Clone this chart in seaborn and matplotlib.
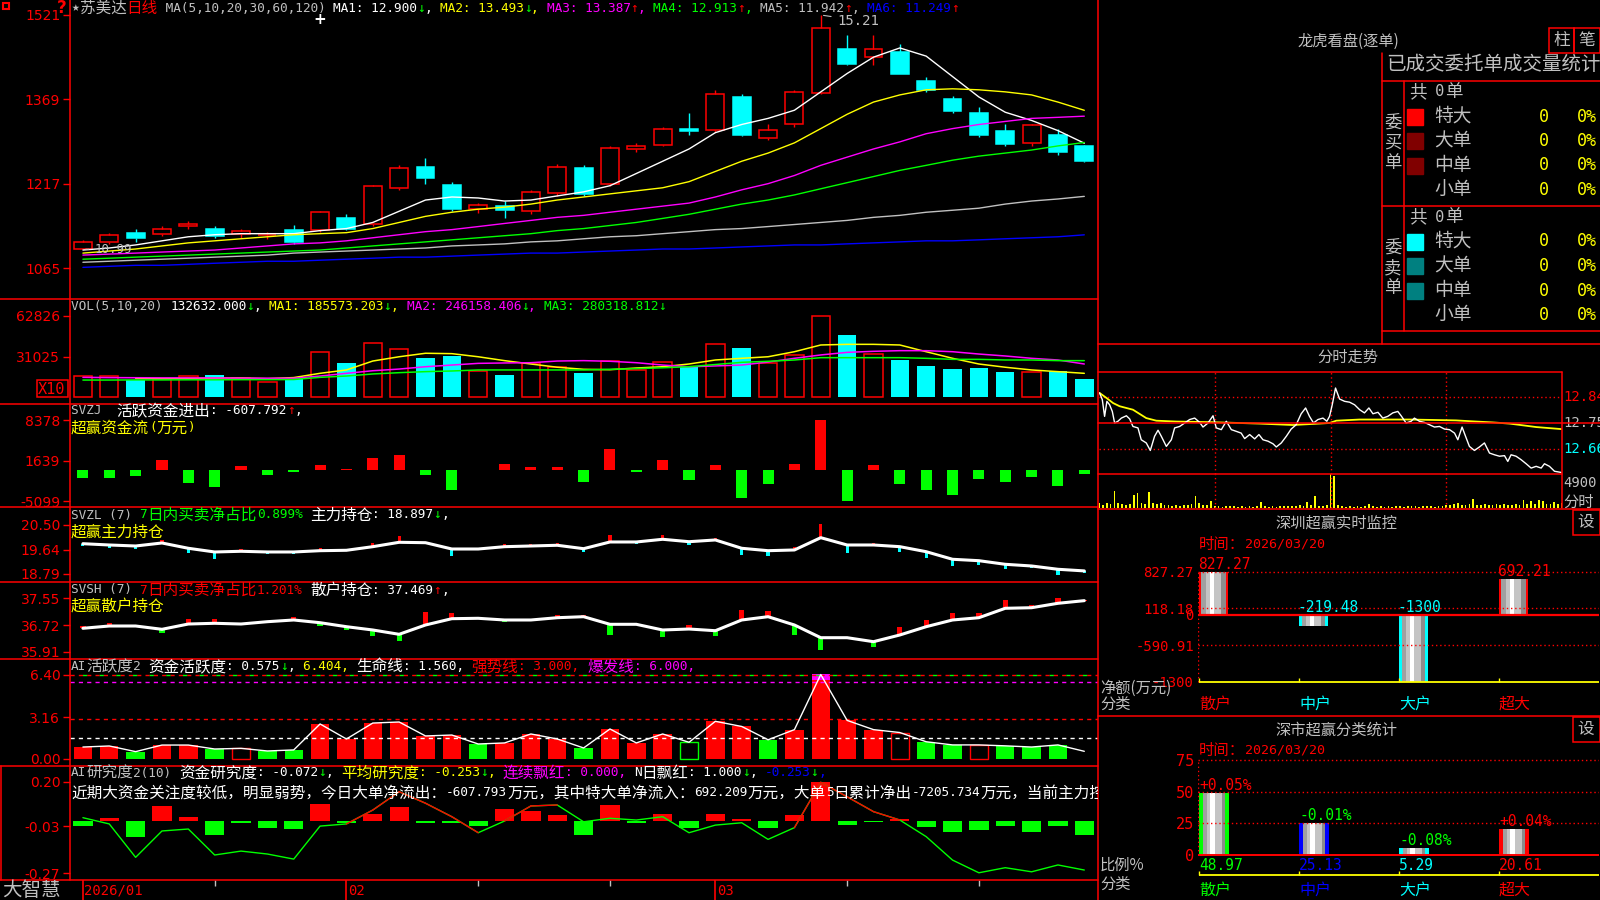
import numpy as np
import matplotlib
matplotlib.use("Agg")
import matplotlib.pyplot as plt
import matplotlib.transforms as mtransforms
from matplotlib.patches import Rectangle
from matplotlib.lines import Line2D
from matplotlib.font_manager import FontProperties
import seaborn as sns

# ---------------- daily data 2026-01-19 .. 2026-03-20 ----------------
opens = [10.99, 11.12, 11.29, 11.27, 11.40, 11.36, 11.27, 11.24, 11.33, 11.34, 11.56, 11.44, 12.10,
         12.48, 12.15, 11.72, 11.76, 11.67, 12.01, 12.45, 12.17, 12.80, 12.87, 13.15, 13.13, 13.73,
         13.00, 13.25, 13.80, 14.60, 14.45, 14.55, 14.02, 13.70, 13.45, 13.12, 12.90, 13.05, 12.85]
highs = [11.15, 11.28, 11.36, 11.40, 11.50, 11.40, 11.35, 11.30, 11.42, 11.68, 11.62, 12.15, 12.50,
         12.63, 12.20, 11.82, 11.85, 12.05, 12.52, 12.50, 12.85, 12.90, 13.20, 13.45, 13.85, 13.78,
         13.25, 13.85, 15.21, 14.85, 14.85, 14.68, 14.10, 13.75, 13.55, 13.25, 13.25, 13.15, 12.87]
lows = [10.99, 11.08, 11.12, 11.22, 11.36, 11.20, 11.20, 11.18, 11.08, 11.30, 11.33, 11.40, 12.05,
        12.17, 11.68, 11.65, 11.55, 11.62, 11.95, 11.95, 12.12, 12.75, 12.85, 13.05, 13.10, 13.03,
        12.95, 13.20, 13.78, 14.30, 14.30, 14.15, 13.82, 13.45, 13.02, 12.85, 12.85, 12.68, 12.57]
closes = [11.12, 11.25, 11.20, 11.36, 11.44, 11.23, 11.32, 11.25, 11.12, 11.66, 11.36, 12.12, 12.46,
          12.28, 11.71, 11.79, 11.70, 12.02, 12.48, 11.99, 12.81, 12.85, 13.15, 13.12, 13.79, 13.05,
          13.13, 13.82, 14.98, 14.32, 14.60, 14.15, 13.85, 13.48, 13.05, 12.88, 13.22, 12.75, 12.58]

ma5 = [10.975, 11.012, 11.067, 11.141, 11.214, 11.251, 11.270, 11.270, 11.270, 11.325, 11.362, 11.472,
       11.674, 11.876, 11.931, 11.913, 11.858, 11.876, 11.950, 12.023, 12.134, 12.354, 12.575, 12.796,
       13.090, 13.237, 13.347, 13.494, 13.825, 14.156, 14.450, 14.616, 14.469, 14.101, 13.733, 13.458,
       13.310, 13.127, 12.900]
ma10 = [10.920, 10.957, 10.994, 11.049, 11.104, 11.141, 11.178, 11.214, 11.251, 11.270, 11.288, 11.362,
        11.472, 11.582, 11.656, 11.711, 11.748, 11.803, 11.876, 11.931, 11.987, 12.042, 12.097, 12.207,
        12.391, 12.575, 12.722, 12.906, 13.163, 13.421, 13.641, 13.770, 13.862, 13.880, 13.862, 13.825,
        13.770, 13.641, 13.493]
ma20 = [10.884, 10.902, 10.920, 10.939, 10.957, 10.975, 11.012, 11.049, 11.086, 11.104, 11.141, 11.196,
        11.251, 11.306, 11.343, 11.398, 11.454, 11.509, 11.564, 11.600, 11.656, 11.711, 11.766, 11.821,
        11.931, 12.060, 12.171, 12.318, 12.501, 12.649, 12.796, 12.924, 13.071, 13.163, 13.237, 13.292,
        13.347, 13.366, 13.387]
ma30 = [10.810, 10.828, 10.847, 10.865, 10.884, 10.902, 10.920, 10.939, 10.957, 10.975, 11.012, 11.049,
        11.086, 11.122, 11.159, 11.196, 11.233, 11.270, 11.325, 11.362, 11.417, 11.472, 11.545, 11.619,
        11.711, 11.803, 11.876, 11.968, 12.079, 12.189, 12.299, 12.410, 12.501, 12.594, 12.667, 12.722,
        12.777, 12.851, 12.913]
ma60 = [10.755, 10.773, 10.792, 10.810, 10.828, 10.847, 10.865, 10.884, 10.920, 10.939, 10.957, 10.975,
        10.994, 11.012, 11.049, 11.067, 11.086, 11.122, 11.141, 11.178, 11.214, 11.233, 11.270, 11.306,
        11.343, 11.362, 11.398, 11.435, 11.472, 11.509, 11.564, 11.600, 11.656, 11.692, 11.729, 11.803,
        11.858, 11.895, 11.942]
ma120 = [10.663, 10.682, 10.700, 10.700, 10.718, 10.737, 10.755, 10.773, 10.773, 10.792, 10.810, 10.828,
         10.847, 10.847, 10.865, 10.884, 10.902, 10.920, 10.920, 10.939, 10.957, 10.975, 10.994, 10.994,
         11.012, 11.031, 11.049, 11.067, 11.067, 11.086, 11.104, 11.122, 11.141, 11.141, 11.159, 11.178,
         11.196, 11.214, 11.249]

volume = [16000, 16000, 12900, 13700, 16000, 16800, 14900, 11400, 14700, 34500, 26300, 41500, 36900,
          30100, 31700, 19900, 17000, 26300, 23000, 18800, 27800, 20900, 27000, 23000, 41000, 37900,
          26300, 32500, 62826, 47900, 33200, 28800, 24000, 21600, 22400, 19300, 19300, 19900, 13900]
vol_ma5 = [np.nan, np.nan, 14400, 14200, 14400, 14700, 14700, 14200, 15000, 18300, 20900, 27800, 31100,
           33800, 33500, 31100, 28100, 25500, 23000, 21400, 21100, 22400, 23400, 25500, 28600, 29900,
           31100, 35000, 40200, 40700, 40700, 40200, 35000, 29900, 25500, 23000, 20900, 19600, 18300]
vol_ma10 = [15200, 15000, 14900, 14800, 14800, 14700, 14600, 14500, 14500, 16200, 18300, 20300, 21600,
            23400, 24700, 26000, 26300, 26500, 27800, 28100, 27600, 26500, 24700, 23400, 24000, 24700,
            27000, 29900, 32500, 34500, 35300, 35800, 35800, 35000, 33200, 31700, 29900, 28600, 25500]
vol_ma20 = [13100, 13100, 13200, 13200, 13300, 13300, 13400, 13400, 13500, 15200, 16200, 17800, 18800,
            19600, 20100, 20900, 20900, 20900, 20900, 20900, 21400, 21900, 22600, 23400, 25100, 26800,
            27600, 28600, 30400, 30400, 30400, 30400, 29900, 29100, 29100, 28600, 28600, 28100, 28100]

svzj = [-1280, -1280, -950, 1720, -2110, -2770, 780, -830, -330, 950, 280, 2110, 2610, -830, -3270,
        110, 1110, 500, 610, -2000, 3610, -330, 1780, -1660, 830, -4660, -2330, 1000, 8378, -5099,
        830, -2330, -3330, -4160, -1500, -2000, -1160, -2660, -607.792]

svzl = [19.847, 19.802, 19.767, 19.872, 19.687, 19.558, 19.582, 19.558, 19.558, 19.603, 19.617, 19.743,
        19.896, 19.882, 19.662, 19.662, 19.743, 19.767, 19.792, 19.673, 19.907, 19.907, 20.001, 19.917,
        19.977, 19.687, 19.603, 19.628, 20.057, 19.802, 19.802, 19.743, 19.568, 19.303, 19.254, 19.128,
        19.069, 18.954, 18.897]
svzl_chg = [-0.08, -0.09, -0.10, 0.12, -0.17, -0.24, 0.09, -0.07, -0.07, 0.09, 0.0, 0.14, 0.21, -0.03,
            -0.23, 0.03, 0.09, 0.08, 0.08, -0.12, 0.24, -0.07, 0.14, -0.10, 0.06, -0.25, -0.17, 0.10,
            0.48, -0.29, 0.06, -0.17, -0.21, -0.25, -0.15, -0.15, -0.08, -0.20, -0.07]

svsh = [36.623, 36.693, 36.693, 36.592, 36.754, 36.776, 36.754, 36.825, 36.877, 36.794, 36.672, 36.571,
        36.439, 36.724, 36.917, 36.929, 36.877, 36.877, 36.947, 36.978, 36.745, 36.745, 36.571, 36.601,
        36.549, 36.877, 36.978, 36.724, 36.335, 36.335, 36.213, 36.418, 36.672, 36.877, 36.947, 37.235,
        37.253, 37.388, 37.469]
svsh_chg = [0.08, 0.10, 0.01, -0.10, 0.14, 0.12, -0.02, 0.03, 0.10, -0.10, -0.10, -0.17, -0.22, 0.40,
            0.16, 0.01, -0.05, -0.03, 0.09, 0.06, -0.33, 0.02, -0.20, 0.12, -0.15, 0.31, 0.17, -0.31,
            -0.38, 0.02, -0.15, 0.25, 0.20, 0.22, 0.13, 0.25, 0.08, 0.15, 0.03]

activity = [0.90, 0.98, 0.55, 1.05, 1.05, 0.75, 0.80, 0.60, 0.68, 2.65, 1.51, 2.72, 2.80, 1.74, 1.81,
            1.13, 1.21, 1.89, 1.51, 0.83, 2.27, 1.21, 1.89, 1.26, 2.85, 2.46, 1.45, 2.22, 6.404, 2.92,
            2.22, 2.00, 1.30, 1.06, 1.06, 0.99, 0.90, 1.06, 0.575]
activity_kind = list("rrgrrgRggrrrrrrgrrrgrrrGrrgrrrrRggRggg")
LIFE_LINE, STRONG_LINE, BURST_LINE, ACT_TOP = 1.56, 3.0, 6.0, 6.40

research = [-0.026, 0.012, -0.082, 0.077, 0.020, -0.072, -0.012, -0.038, -0.043, 0.087, -0.012, 0.036,
            0.072, -0.014, -0.014, -0.026, 0.061, 0.051, 0.031, -0.072, 0.082, -0.014, 0.036, -0.036,
            0.036, 0.010, -0.036, 0.031, 0.198, -0.020, -0.005, 0.007, -0.031, -0.060, -0.048, -0.026,
            -0.060, -0.026, -0.072]
research_avg = [0.015, -0.017, -0.188, -0.053, -0.043, -0.176, -0.156, -0.171, -0.197, -0.028, -0.017,
                0.054, 0.148, 0.089, 0.020, -0.062, -0.002, 0.075, 0.080, -0.006, 0.012, 0.003, 0.020,
                -0.062, -0.023, -0.011, -0.096, -0.036, 0.196, 0.122, 0.046, 0.003, -0.082, -0.202,
                -0.267, -0.241, -0.262, -0.227, -0.253]
research_red_seg = [10, 11, 12, 13, 14, 16, 17, 27, 28, 29, 30]

month_idx = [0, 10, 24]
month_lbl = ["2026/01", "02", "03"]
week_idx = [5, 15, 20, 29, 34]

# ---------------- intraday 2026-03-20 ----------------
tick_min = [0.3, 1.7, 2.9, 4.1, 5.5, 6.9, 8.1, 9.8, 11.6, 14.2, 15.9, 17.6, 20.2, 21.9, 24.5, 26.6, 28.8,
            30.6, 32.3, 34.9, 37.5, 39.2, 41.8, 44.4, 47.0, 49.6, 52.2, 53.9, 56.5, 59.1, 60.8, 63.4,
            66.0, 68.6, 71.2, 73.7, 75.5, 78.1, 80.7, 82.9, 85.0, 87.6, 90.2, 91.9, 94.5, 97.1, 99.6,
            102.2, 104.8, 107.1, 109.1, 111.2, 113.5, 116.1, 118.1, 119.5, 120.9, 122.6, 124.7, 127.3,
            129.9, 132.5, 135.1, 137.6, 139.9, 142.0, 144.6, 147.1, 149.7, 152.3, 154.9, 156.6, 159.2,
            161.8, 163.5, 166.1, 168.7, 171.3, 173.9, 176.5, 179.1, 181.7, 184.3, 186.0, 188.2, 190.0,
            192.0, 194.6, 197.2, 199.8, 202.4, 205.0, 207.6, 210.2, 211.9, 213.6, 216.2, 218.8, 221.4,
            224.0, 226.6, 229.2, 230.9, 233.5, 236.1, 239.5]
tick_price = [12.854, 12.831, 12.773, 12.825, 12.813, 12.790, 12.750, 12.756, 12.767, 12.775, 12.764,
              12.738, 12.733, 12.692, 12.681, 12.655, 12.704, 12.725, 12.704, 12.669, 12.692, 12.733,
              12.738, 12.750, 12.762, 12.767, 12.752, 12.736, 12.750, 12.775, 12.733, 12.727, 12.756,
              12.727, 12.721, 12.715, 12.696, 12.710, 12.695, 12.710, 12.692, 12.687, 12.678, 12.667,
              12.681, 12.704, 12.729, 12.744, 12.782, 12.802, 12.773, 12.750, 12.762, 12.767, 12.756,
              12.773, 12.813, 12.871, 12.833, 12.825, 12.822, 12.813, 12.796, 12.785, 12.802, 12.782,
              12.787, 12.767, 12.773, 12.785, 12.790, 12.775, 12.750, 12.756, 12.767, 12.756, 12.752,
              12.744, 12.736, 12.738, 12.729, 12.727, 12.715, 12.692, 12.736, 12.704, 12.669, 12.655,
              12.667, 12.681, 12.646, 12.640, 12.635, 12.637, 12.617, 12.640, 12.635, 12.623, 12.609,
              12.594, 12.600, 12.594, 12.609, 12.600, 12.583, 12.579]
avg_min = [0.3, 3.8, 7.3, 10.7, 17.6, 24.5, 29.7, 40.1, 57.3, 83.2, 100.5, 119.5, 123.0, 135.1, 161.0,
           185.1, 195.5, 204.1, 212.8, 226.6, 239.5]
avg_price = [12.854, 12.837, 12.819, 12.808, 12.796, 12.767, 12.758, 12.755, 12.753, 12.748, 12.743,
             12.750, 12.758, 12.762, 12.762, 12.759, 12.755, 12.752, 12.748, 12.736, 12.729]
min_vol = [900, 600, 1000, 700, 3270, 900, 700, 600, 800, 2610, 2940, 900, 800, 3140, 1000, 700, 900,
           600, 500, 400, 500, 400, 600, 500, 800, 2420, 900, 600, 500, 1310, 300, 300, 200, 300, 400,
           300, 200, 300, 200, 300, 200, 300, 1110, 300, 200, 300, 200, 300, 400, 300, 400, 300, 500,
           400, 1110, 500, 2290, 400, 300, 500, 6600, 6200, 500, 300, 200, 300, 200, 300, 200, 300, 850,
           300, 200, 300, 200, 300, 200, 400, 300, 200, 300, 400, 300, 200, 300, 400, 300, 200, 300, 400,
           600, 500, 700, 980, 600, 500, 700, 1760, 600, 500, 700, 600, 500, 700, 600, 800, 600, 500, 700,
           600, 1500, 700, 1440, 800, 1630, 1310, 700, 800, 1180, 700, 900]
PREV_CLOSE, PRICE_HI, PRICE_LO, VOL_MARK = 12.75, 12.84, 12.66, 4900

# ---------------- right-hand panels ----------------
order_rows = ["特大", "大单", "中单", "小单"]
order_counts = [0, 0, 0, 0]
buy_colors = ["#ff0000", "#800000", "#800000", None]
sell_colors = ["#00ffff", "#008080", "#008080", None]

flow_cats = ["散户", "中户", "大户", "超大"]
flow_vals = [827.27, -219.48, -1300, 692.21]
flow_ticks = [827.27, 118.18, 0, -590.91, -1300]
share_vals = [48.97, 25.13, 5.29, 20.61]
share_chg = ["+0.05%", "-0.01%", "-0.08%", "+0.04%"]
share_ticks = [0, 25, 50, 75]

RED, CYAN, GREEN, YELLOW = "#ff0000", "#00ffff", "#00ff00", "#ffff00"
MAGENTA, GRAY, WHITE, BLUE = "#ff00ff", "#c0c0c0", "#ffffff", "#0000ff"
MONO = ["DejaVu Sans Mono", "Noto Sans CJK SC"]
CJK = ["Noto Sans CJK SC", "DejaVu Sans"]
W, H = 1600, 900

sns.set_theme(style="dark", rc={"axes.facecolor": "black", "figure.facecolor": "black",
                                "axes.grid": False, "axes.unicode_minus": False})
plt.rcParams["font.family"] = ["DejaVu Sans", "Noto Sans CJK SC"]

fig = plt.figure(figsize=(16, 9), dpi=100)
fig.patch.set_facecolor("black")
renderer = fig.canvas.get_renderer()


def px_ax(x0, y0, x1, y1):
    ax = fig.add_axes([x0 / W, 1 - y1 / H, (x1 - x0) / W, (y1 - y0) / H])
    ax.set_facecolor("none")
    ax.grid(False)
    for s in ax.spines.values():
        s.set_visible(False)
    ax.set_xticks([])
    ax.set_yticks([])
    return ax


def hline(y, x0, x1, color=RED, lw=1.1, ls="-"):
    fig.add_artist(Line2D([x0 / W, x1 / W], [1 - y / H] * 2, color=color, lw=lw, ls=ls))


def vline(x, y0, y1, color=RED, lw=1.1, ls="-"):
    fig.add_artist(Line2D([x / W] * 2, [1 - y0 / H, 1 - y1 / H], color=color, lw=lw, ls=ls))


def box(x0, y0, x1, y1, color=RED, lw=1.1):
    fig.add_artist(Rectangle((x0 / W, 1 - y1 / H), (x1 - x0) / W, (y1 - y0) / H, fill=False,
                             edgecolor=color, lw=lw, transform=fig.transFigure))


def text_w(s, fam, size):
    prop = FontProperties(family=fam, size=size)
    w, _, _ = renderer.get_text_width_height_descent(s.replace(" ", "0"), prop, ismath=False)
    return w


def ctext(x, y, parts, size=9.2, wide=1.22, clip=None):
    # multi-coloured line; CJK runs slightly larger, like the bitmap font of the terminal
    for s, col in parts:
        chunks, run, cur = [], "", None
        for ch in s:
            w = ord(ch) >= 0x2E80
            if cur is not None and w != cur:
                chunks.append((run, cur))
                run = ""
            run += ch
            cur = w
        if run:
            chunks.append((run, cur))
        for r, w in chunks:
            fam = CJK if w else MONO
            sz = size * wide if w else size
            t = fig.text(x / W, 1 - y / H, r, color=col, fontsize=sz, family=fam, va="center", ha="left")
            if clip is not None:
                t.set_clip_box(clip)
                t.set_clip_on(True)
            x += text_w(r, fam, sz)
    return x


def left_ticks(ax, vals, labels):
    ax.set_yticks(vals)
    ax.set_yticklabels(labels)
    ax.tick_params(axis="y", left=True, length=5, width=1, color=RED, labelcolor=RED,
                   labelsize=10, pad=2)


idx = np.arange(len(closes))
o, hi, lo, c = map(np.array, (opens, highs, lows, closes))
up = c >= o
XL = (-0.49, 38.52)
dn_arrow, up_arrow = ("↓", GREEN), ("↑", RED)

# ---------------- K line ----------------
axk = px_ax(70, 0, 1098, 299)
axk.set_xlim(*XL)
axk.set_ylim(10.093, 15.48)
left_ticks(axk, [10.65, 12.17, 13.69, 15.21], ["1065", "1217", "1369", "1521"])
bw = 0.68
for i in idx:
    col = RED if up[i] else CYAN
    top, bot = max(o[i], c[i]), min(o[i], c[i])
    axk.vlines(i, top, hi[i], color=col, lw=1)
    axk.vlines(i, lo[i], bot, color=col, lw=1)
    axk.add_patch(Rectangle((i - bw / 2, bot), bw, max(top - bot, 0.004),
                            facecolor="none" if up[i] else CYAN, edgecolor=col, lw=1.1))
for ma, col in zip([ma5, ma10, ma20, ma30, ma60, ma120], [WHITE, YELLOW, MAGENTA, GREEN, GRAY, BLUE]):
    sns.lineplot(x=idx, y=ma, ax=axk, color=col, lw=1, legend=False)
kh = int(np.argmax(hi))
axk.annotate(f"{hi[kh]:.2f}", xy=(kh, hi[kh]), xytext=(kh + 0.62, hi[kh] - 0.1), color=GRAY,
             fontsize=10, family=MONO, va="center",
             arrowprops=dict(arrowstyle="-", color=GRAY, lw=0.8))
kl = int(np.argmin(lo))
axk.annotate(f"{lo[kl]:.2f}", xy=(kl, lo[kl]), xytext=(kl + 0.45, lo[kl]), color=GRAY,
             fontsize=9, family=MONO, va="center",
             arrowprops=dict(arrowstyle="-", color=GRAY, lw=0.8))
mas = [(ma5, WHITE), (ma10, YELLOW), (ma20, MAGENTA), (ma30, GREEN), (ma60, GRAY), (ma120, BLUE)]
parts = [("★苏美达", GRAY), ("日线", RED), (" MA(5,10,20,30,60,120) ", GRAY)]
for k, (ma, col) in enumerate(mas):
    parts.append((f"MA{k + 1}: {ma[-1]:.3f}", col))
    parts.append(up_arrow if ma[-1] >= ma[-2] else dn_arrow)
    if k < 5:
        parts.append((", ", col))
ctext(72, 8, parts)
fig.text(320 / W, 1 - 19 / H, "+", color=WHITE, fontsize=11, fontweight="bold", ha="center", va="center")
fig.text(62 / W, 1 - 8 / H, "?", color=RED, fontsize=12, fontweight="bold", ha="center", va="center")
box(3, 3, 9, 9, lw=1.5)

# ---------------- volume ----------------
axv = px_ax(70, 299, 1098, 404)
axv.set_xlim(*XL)
axv.set_ylim(-5410, 75734)
left_ticks(axv, [31025, 62826], ["31025", "62826"])
vol = np.array(volume)
axv.bar(idx[up], vol[up], width=0.7, facecolor="none", edgecolor=RED, linewidth=1.1)
axv.bar(idx[~up], vol[~up], width=0.7, color=CYAN, linewidth=0)
for s, col in zip([vol_ma5, vol_ma10, vol_ma20], [YELLOW, MAGENTA, GREEN]):
    sns.lineplot(x=idx, y=s, ax=axv, color=col, lw=1.1, legend=False)
ctext(71, 306, [("VOL(5,10,20) ", GRAY), ("132632.000", WHITE), dn_arrow, (", ", WHITE),
                ("MA1: 185573.203", YELLOW), dn_arrow, (", ", YELLOW),
                ("MA2: 246158.406", MAGENTA), dn_arrow, (", ", MAGENTA),
                ("MA3: 280318.812", GREEN), dn_arrow])
box(37, 380, 68, 397)
fig.text(52 / W, 1 - 389 / H, "X10", color=RED, fontsize=11, family=MONO, ha="center", va="center")

# ---------------- SVZJ ----------------
axz = px_ax(70, 404, 1098, 507)
axz.set_xlim(*XL)
axz.set_ylim(-6090, 11049)
left_ticks(axz, [-5099, 1639, 8378], ["-5099", "1639", "8378"])
zj = np.array(svzj, dtype=float)
axz.bar(idx, zj, width=0.42, color=[RED if v > 0 else GREEN for v in zj], linewidth=0)
ctext(71, 411, [("SVZJ  ", GRAY), (f"活跃资金进出: {zj[-1]:.3f}", WHITE), up_arrow, (",", WHITE)])
ctext(71, 428, [("超赢资金流(万元)", YELLOW)])

# ---------------- SVZL ----------------
axl = px_ax(70, 507, 1098, 582)
axl.set_xlim(*XL)
axl.set_ylim(18.51, 21.128)
left_ticks(axl, [18.79, 19.64, 20.50], ["18.79", "19.64", "20.50"])
zl_chg = np.array(svzl_chg)
axl.bar(idx, zl_chg, bottom=svzl, width=0.12, color=[RED if v > 0 else CYAN for v in zl_chg], linewidth=0)
sns.lineplot(x=idx, y=svzl, ax=axl, color=WHITE, lw=2.2, legend=False)
ctext(71, 515, [("SVZL (7) ", GRAY), ("7日内买卖净占比0.899%", GREEN), (f" 主力持仓: {svzl[-1]:.3f}", WHITE),
                dn_arrow, (",", WHITE)])
ctext(71, 532, [("超赢主力持仓", YELLOW)])

# ---------------- SVSH ----------------
axs = px_ax(70, 582, 1098, 659)
axs.set_xlim(*XL)
axs.set_ylim(35.683, 38.04)
left_ticks(axs, [35.91, 36.72, 37.55], ["35.91", "36.72", "37.55"])
sh_chg = np.array(svsh_chg)
axs.bar(idx, sh_chg, bottom=svsh, width=0.2, color=[RED if v > 0 else GREEN for v in sh_chg], linewidth=0)
sns.lineplot(x=idx, y=svsh, ax=axs, color=WHITE, lw=2.2, legend=False)
ctext(71, 590, [("SVSH (7) ", GRAY), ("7日内买卖净占比1.201%", RED), (f" 散户持仓: {svsh[-1]:.3f}", WHITE),
                up_arrow, (",", WHITE)])
ctext(71, 606, [("超赢散户持仓", YELLOW)])

# ---------------- AI 活跃度 ----------------
axa = px_ax(70, 659, 1098, 766)
axa.set_xlim(*XL)
axa.set_ylim(-0.54, 7.58)
left_ticks(axa, [0, 3.16, 6.40], ["0.00", "3.16", "6.40"])
act = np.array(activity)
axa.axhline(ACT_TOP, color=RED, lw=1, ls=(0, (3, 3)))
axa.axhline(ACT_TOP, color=GREEN, lw=1, ls=(3, (3, 9)))
axa.axhline(BURST_LINE - 0.14, color=MAGENTA, lw=1, ls=(0, (3, 3)))
axa.axhline(STRONG_LINE, color=RED, lw=1, ls=(0, (3, 3)))
axa.axhline(LIFE_LINE, color=WHITE, lw=1, ls=(0, (3, 3)))
sns.lineplot(x=idx, y=act, ax=axa, color=WHITE, lw=1, legend=False)
for i, (v, k) in enumerate(zip(act, activity_kind)):
    col = RED if k in "rR" else GREEN
    hollow = k in "RG"
    axa.bar(i, v, width=0.7, facecolor="none" if hollow else col, edgecolor=col, linewidth=1 if hollow else 0)
    if v > BURST_LINE:
        axa.bar(i, v - BURST_LINE, bottom=BURST_LINE, width=0.7, color=MAGENTA, linewidth=0)
ctext(71, 667, [("AI活跃度2 ", GRAY), (f"资金活跃度: {act[-1]:.3f}", WHITE), dn_arrow, (", ", WHITE),
                (f"{act.max():.3f}, ", YELLOW), (f"生命线: {LIFE_LINE:.3f}, ", WHITE),
                (f"强势线: {STRONG_LINE:.3f}, ", RED), (f"爆发线: {BURST_LINE:.3f},", MAGENTA)])

# ---------------- AI 研究度 ----------------
axr = px_ax(70, 766, 1098, 880)
axr.set_xlim(*XL)
axr.set_ylim(-0.304, 0.2796)
left_ticks(axr, [-0.27, -0.03, 0.20], ["-0.27", "-0.03", "0.20"])
rs = np.array(research)
axr.bar(idx, rs, width=0.73, color=[RED if v > 0 else GREEN for v in rs], linewidth=0)
ra = np.array(research_avg)
sns.lineplot(x=idx, y=ra, ax=axr, color=GREEN, lw=1, legend=False)
for s in research_red_seg:
    axr.plot([s, s + 1], ra[s:s + 2], color=RED, lw=1)
ctext(71, 773, [("AI研究度2(10) ", GRAY), (f"资金研究度: {rs[-1]:.3f}", WHITE), dn_arrow, (", ", WHITE),
                (f"平均研究度: {ra[-1]:.3f}", YELLOW), dn_arrow, (", ", YELLOW),
                ("连续飘红: 0.000, ", MAGENTA), ("N日飘红: 1.000", WHITE), dn_arrow, (", ", WHITE),
                (f"{ra[-1]:.3f}", BLUE), dn_arrow, (",", BLUE)])
ctext(71, 793, [("近期大资金关注度较低，明显弱势，今日大单净流出：-607.793万元，其中特大单净流入：692.209万元，"
                 "大单5日累计净出-7205.734万元，当前主力控盘", WHITE)], clip=axr.bbox)

# ---------------- date row ----------------
axd = px_ax(70, 880, 1098, 900)
axd.set_xlim(*XL)
axd.set_ylim(0, 1)
axd.vlines(month_idx, 0, 1, color=RED, lw=1.2)
axd.vlines(week_idx, 0.72, 1, color=GRAY, lw=1)
for i, lb in zip(month_idx, month_lbl):
    axd.text(i + 0.05, 0.45, lb, color=RED, fontsize=10, family=MONO, va="center", ha="left")
ctext(2, 890, [("大智慧", GRAY)], size=11.5)

# frame lines of the left area
for y in [299, 404, 507, 582, 659, 766, 880]:
    hline(y, 0, 1098)
vline(69.5, 0, 880)
vline(1, 766, 880)
vline(1098, 0, 900)

# ---------------- 龙虎看盘 ----------------
fig.text(1348 / W, 1 - 41 / H, "龙虎看盘(逐单)", color=GRAY, fontsize=11, family=CJK, ha="center", va="center")
box(1549, 28, 1574, 53)
box(1574, 28, 1600, 53)
fig.text(1561.5 / W, 1 - 41 / H, "柱", color=GRAY, fontsize=12, family=CJK, ha="center", va="center")
fig.text(1587 / W, 1 - 41 / H, "笔", color=GRAY, fontsize=12, family=CJK, ha="center", va="center")
vline(1382, 53, 344)
hline(80.7, 1382, 1600)
hline(205.7, 1382, 1600)
hline(331, 1382, 1600)
vline(1404, 80.7, 331)
fig.text(1386 / W, 1 - 65 / H, "已成交委托单成交量统计", color=GRAY, fontsize=14, family=CJK, ha="left", va="center")
for top, side, cols in [(92, "委买单", buy_colors), (217, "委卖单", sell_colors)]:
    ctext(1409, top, [("共", GRAY), (" 0", GRAY), ("单", GRAY)], size=11, wide=1.15)
    for k, ch in enumerate(side):
        fig.text(1393 / W, 1 - (top + 31 + 20 * k) / H, ch, color=GRAY, fontsize=12.5, family=CJK,
                 ha="center", va="center")
    for r, (name, n, col) in enumerate(zip(order_rows, order_counts, cols)):
        yy = top + 24.5 * (r + 1)
        if col:
            fig.add_artist(Rectangle((1407 / W, 1 - (yy + 8) / H), 16 / W, 16 / H, color=col,
                                     transform=fig.transFigure))
        fig.text(1434 / W, 1 - yy / H, name, color=GRAY, fontsize=13.5, family=CJK, ha="left", va="center")
        fig.text(1544 / W, 1 - yy / H, f"{n}", color=YELLOW, fontsize=12, family=MONO, ha="center", va="center")
        fig.text(1577 / W, 1 - yy / H, f"{n}%", color=YELLOW, fontsize=12, family=MONO, ha="left", va="center")

# ---------------- 分时走势 ----------------
hline(344, 1098, 1600)
fig.text(1348 / W, 1 - 357 / H, "分时走势", color=GRAY, fontsize=11, family=CJK, ha="center", va="center")
axp = px_ax(1099, 372, 1562, 474)
axp.set_xlim(0, 240)
axp.set_ylim(12.5735, 12.9265)
axpv = px_ax(1099, 474, 1562, 508)
axpv.set_xlim(0, 240)
axpv.set_ylim(0, 6600)
for a in (axp, axpv):
    for m in (60, 120, 180):
        a.axvline(m, color=RED, lw=1, ls=(0, (1, 2)))
axp.axhline(PRICE_HI, color=RED, lw=1, ls=(0, (1, 2)))
axp.axhline(PRICE_LO, color=RED, lw=1, ls=(0, (1, 2)))
hline(423.3, 1098, 1600)
sns.lineplot(x=avg_min, y=avg_price, ax=axp, color=YELLOW, lw=1.3, legend=False)
sns.lineplot(x=tick_min, y=tick_price, ax=axp, color=WHITE, lw=1, legend=False)
axpv.bar(np.arange(len(min_vol)) * 2, min_vol, width=0.9, color=YELLOW, linewidth=0)
for v, col in [(PRICE_HI, RED), (PREV_CLOSE, GRAY), (PRICE_LO, CYAN)]:
    axp.text(240.5, v, f"{v:.2f}", color=col, fontsize=10, family=MONO, va="center", ha="left", clip_on=False)
axpv.text(240.5, VOL_MARK, f"{VOL_MARK}", color=GRAY, fontsize=10, family=MONO, va="center", ha="left",
          clip_on=False)
fig.text(1563 / W, 1 - 502 / H, "分时", color=GRAY, fontsize=11, family=CJK, ha="left", va="center")
hline(372, 1098, 1562)
hline(474, 1098, 1562)
vline(1562, 372, 508)


def striped(ax, x0, w, v, bottom, edge, ef):
    bands = [(0, ef, edge), (ef, 0.25, "#a0a0a0"), (0.25, 0.38, "#c4c4c4"), (0.38, 0.52, WHITE),
             (0.52, 0.76, "#c4c4c4"), (0.76, 1 - ef, "#8c8c8c"), (1 - ef, 1, edge)]
    for a, b, col in bands:
        ax.bar(x0 + a * w, v, bottom=bottom, width=(b - a) * w, align="edge", color=col, linewidth=0)


# ---------------- 深圳超赢实时监控 ----------------
hline(509, 1098, 1600)
fig.text(1336 / W, 1 - 523 / H, "深圳超赢实时监控", color=GRAY, fontsize=11, family=CJK, ha="center", va="center")
box(1573, 510, 1600, 535)
fig.text(1586 / W, 1 - 522 / H, "设", color=GRAY, fontsize=12, family=CJK, ha="center", va="center")
ctext(1199, 544, [("时间：", RED), ("2026/03/20", RED)], size=9.6, wide=1.15)
axf = px_ax(1198, 560, 1599, 690)
axf.set_xlim(0, 4.01)
axf.set_ylim(-1460, 1054)
axf.set_yticks(flow_ticks)
axf.set_yticklabels([f"{v:g}" for v in flow_ticks], family=MONO)
axf.tick_params(axis="y", left=False, length=0, labelcolor=RED, labelsize=10, pad=3)
for v in flow_ticks:
    if v not in (0, flow_ticks[-1]):
        axf.axhline(v, color=RED, lw=1, ls=(0, (1, 2)))
axf.vlines(0, flow_ticks[-1], flow_ticks[0], color=RED, lw=1, ls=(0, (1, 2)))
for i, v in enumerate(flow_vals):
    edge = RED if v > 0 else CYAN
    striped(axf, i + 0.01, 0.29, v, 0, edge, 0.06 if v > 0 else 0.1)
    axf.text(i + 0.0, max(v, 0), f"{v:g}", color=edge, fontsize=10.5, family=MONO, va="bottom", ha="left")
axf.axhline(0, color=RED, lw=1.6)
axf.hlines(flow_ticks[-1], 0.01, 4.01, color=YELLOW, lw=1.3)
axf.vlines(np.arange(4) + 0.01, flow_ticks[-1], flow_ticks[-1] + 80, color=YELLOW, lw=1)
tf = mtransforms.blended_transform_factory(axf.transData, fig.transFigure)
for i, (cat, v) in enumerate(zip(flow_cats, flow_vals)):
    axf.text(i + 0.01, 1 - 704 / H, cat, color=RED if v > 0 else CYAN, fontsize=11.5, family=CJK,
             transform=tf, va="center", ha="left")
fig.text(1100 / W, 1 - 688 / H, "净额(万元)", color=GRAY, fontsize=11, family=CJK, ha="left", va="center")
fig.text(1100 / W, 1 - 704 / H, "分类", color=GRAY, fontsize=11, family=CJK, ha="left", va="center")

# ---------------- 深市超赢分类统计 ----------------
hline(716, 1098, 1600)
fig.text(1336 / W, 1 - 730 / H, "深市超赢分类统计", color=GRAY, fontsize=11, family=CJK, ha="center", va="center")
box(1573, 717, 1600, 742)
fig.text(1586 / W, 1 - 729 / H, "设", color=GRAY, fontsize=12, family=CJK, ha="center", va="center")
ctext(1199, 750, [("时间：", RED), ("2026/03/20", RED)], size=9.6, wide=1.15)
axc = px_ax(1198, 755, 1599, 880)
axc.set_xlim(0, 4.01)
axc.set_ylim(-19.7, 78.95)
axc.set_yticks(share_ticks)
axc.set_yticklabels([str(v) for v in share_ticks], family=MONO)
axc.tick_params(axis="y", left=False, length=0, labelcolor=RED, labelsize=11, pad=3)
for v in share_ticks[1:]:
    axc.axhline(v, color=RED, lw=1, ls=(0, (1, 2)))
axc.vlines(0, 0, share_ticks[-1], color=RED, lw=1, ls=(0, (1, 2)))
share_colors = [GREEN, BLUE, CYAN, RED]
for i, (v, chg, col) in enumerate(zip(share_vals, share_chg, share_colors)):
    striped(axc, i + 0.01, 0.3, v, 0, col, 0.13)
    axc.text(i + 0.01, v, chg, color=RED if chg.startswith("+") else GREEN, fontsize=10.5, family=MONO,
             va="bottom", ha="left")
    axc.text(i + 0.01, -2.5, f"{v:.2f}", color=col, fontsize=10.5, family=MONO, va="top", ha="left")
axc.axhline(0, color=RED, lw=1.4)
axc.hlines(-15.8, 0.01, 4.01, color=YELLOW, lw=1.3)
axc.vlines(np.arange(4) + 0.01, -15.8, -12.6, color=YELLOW, lw=1)
tc = mtransforms.blended_transform_factory(axc.transData, fig.transFigure)
for i, (cat, col) in enumerate(zip(flow_cats, share_colors)):
    axc.text(i + 0.01, 1 - 890 / H, cat, color=col, fontsize=11.5, family=CJK, transform=tc,
             va="center", ha="left")
fig.text(1100 / W, 1 - 865 / H, "比例%", color=GRAY, fontsize=11, family=CJK, ha="left", va="center")
fig.text(1100 / W, 1 - 884 / H, "分类", color=GRAY, fontsize=11, family=CJK, ha="left", va="center")

fig.savefig("out.png", dpi=100, facecolor="black")
